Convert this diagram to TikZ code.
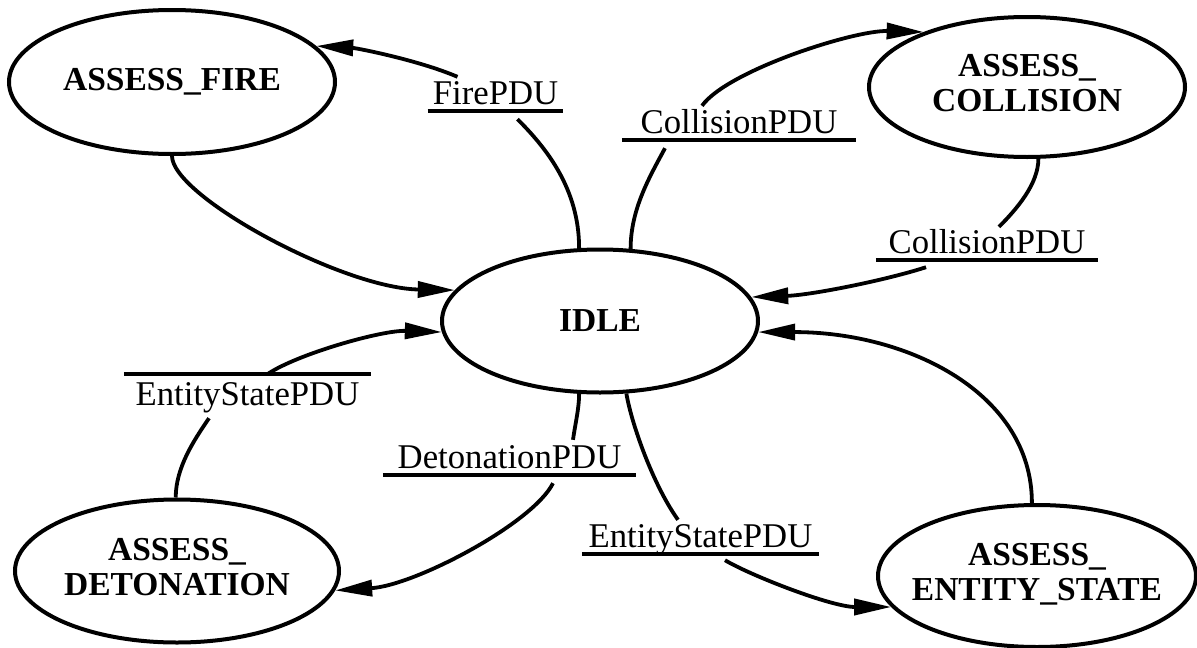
\documentclass[tikz,border=0pt]{standalone}
\usepackage{fontspec}
\setmainfont{Liberation Serif}
\usetikzlibrary{arrows.meta,calc,shapes.geometric}

% state names: zero-width boxes so the ellipse size comes only from the minimum sizes
\newcommand\stname[1]{\hbox to 0pt{\hss#1\hss}}
\newcommand\sttwo[2]{\hbox to 0pt{\hss\begin{tabular}{@{}c@{}}#1\\#2\end{tabular}\hss}}

\tikzset{
  state/.style={ellipse, draw, line width=4pt, inner sep=0pt,
    font=\fontsize{33.5}{35}\selectfont\bfseries},
  pdu/.style={fill=white, inner ysep=7pt, text height=24pt, text depth=0pt,
    anchor=base, font=\fontsize{34.7}{40}\selectfont},
  rule/.style={line width=3.5pt},
  under/.style={append after command={(\tikzlastnode.south west) edge[rule] (\tikzlastnode.south east)}},
  over/.style={append after command={(\tikzlastnode.north west) edge[rule] (\tikzlastnode.north east)}},
  link/.style={line width=3.8pt},
  flow/.style={line width=3.8pt, -{Triangle[length=37pt,width=16pt]}},
}

\begin{document}
\begin{tikzpicture}[x=1pt,y=-1pt]
\useasboundingbox (0,0) rectangle (1197,648);
\fill[white] (0,0) rectangle (1197,648);

% states
\node[state, minimum width=316pt, minimum height=143pt] (idle) at (600,321) {\stname{IDLE}};
\node[state, minimum width=326pt, minimum height=144pt] (fire) at (172,82) {\stname{ASSESS\_FIRE}};
\node[state, minimum width=316pt, minimum height=140pt] (coll) at (1027,87) {\sttwo{ASSESS\_}{COLLISION}};
\node[state, minimum width=324pt, minimum height=143pt] (deto) at (177,571) {\sttwo{ASSESS\_}{DETONATION}};
\node[state, minimum width=318pt, minimum height=142pt] (ents) at (1037,576) {\sttwo{ASSESS\_}{ENTITY\_STATE}};

% transition labels
\node[pdu, under, inner xsep=4.9pt]  (lF)  at (495.5,104) {FirePDU};
\node[pdu, under, inner xsep=18.7pt] (lC1) at (739,133)   {CollisionPDU};
\node[pdu, under, inner xsep=12.7pt] (lC2) at (987,253)   {CollisionPDU};
\node[pdu, over,  inner xsep=11.7pt] (lE1) at (247.5,405) {EntityStatePDU};
\node[pdu, under, inner xsep=6.7pt]  (lE2) at (700.5,547) {EntityStatePDU};

% IDLE -> ASSESS_FIRE
\draw[link] (idle.106.5) .. controls +(0,-60) and +(28,28) .. ($(lF.south)+(22,8)$);
\draw[flow] ($(lF.north)+(-38,4)$) .. controls +(-40,-17) and +(40,2) .. (fire.14.6);

% ASSESS_FIRE -> IDLE
\draw[flow] (fire.270) .. controls +(0,40) and +(-113,-2) .. (idle.168.8);

% IDLE -> ASSESS_COLLISION
\draw[link] (idle.67) .. controls +(0,-40) and +(-15,28) .. ($(lC1.south)+(-74,8)$);
\draw[flow] ($(lC1.north)+(-37,4)$) .. controls +(25,-35) and +(-70,-2) .. (coll.152.8);

% ASSESS_COLLISION -> IDLE
\draw[link] (coll.279.7) .. controls +(0,25) and +(18,-18) .. ($(lC2.north)+(12,5)$);
\draw[flow] ($(lC2.south)+(-61,7)$) .. controls +(-40,13) and +(60,-2) .. (idle.9.7);

% ASSESS_DETONATION -> IDLE
\draw[link] (deto.91) .. controls +(0,-30) and +(-15,22) .. ($(lE1.south)+(-38.5,6)$);
\draw[flow] ($(lE1.north)+(20.5,0)$) .. controls +(30,-20) and +(-60,-2) .. (idle.184.5);

% IDLE -> ASSESS_ENTITY_STATE
\draw[link] (idle.290.6) .. controls +(5,30) and +(-25,-35) .. ($(lE2.north)+(-22.5,4)$);
\draw[flow] ($(lE2.south)+(24.5,6)$) .. controls +(25,15) and +(-60,0) .. (ents.192.1);

% IDLE -> ASSESS_DETONATION (label set over the neighbouring line)
\node[pdu, under, inner xsep=14.7pt] (lD) at (509.5,468) {DetonationPDU};
\draw[link] (idle.254.5) .. controls +(0,15) and +(2,-15) .. ($(lD.north)+(63.5,3)$);
\draw[flow] ($(lD.south)+(43.5,8)$) .. controls +(-20,40) and +(80,-5) .. (deto.-7.9);

% ASSESS_ENTITY_STATE -> IDLE
\draw[flow] (ents.94.8) .. controls +(0,-110) and +(150,0) .. (idle.-4.9);
\end{tikzpicture}
\end{document}
